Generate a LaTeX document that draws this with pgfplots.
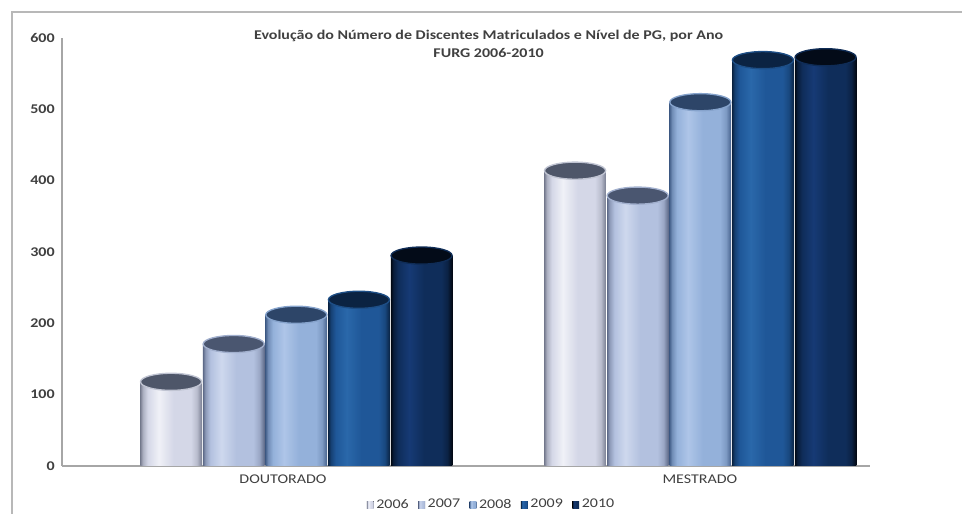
\documentclass[border=0pt]{standalone}
\usepackage{fontspec}
\setmainfont{Carlito}[FakeStretch=1.2]
\usepackage{pgfplots}
\pgfplotsset{compat=1.18}

\definecolor{txt}{HTML}{404040}
\definecolor{axl}{HTML}{A6A6A6}
% body colours: edge, base, highlight
\definecolor{ea}{HTML}{7A7F92}\definecolor{ca}{HTML}{D4D7E7}\definecolor{ha}{HTML}{F0F1F7}
\definecolor{eb}{HTML}{5E6A88}\definecolor{cb}{HTML}{B3C1DF}\definecolor{hb}{HTML}{CED8EE}
\definecolor{ec}{HTML}{46628C}\definecolor{cc}{HTML}{94B1DA}\definecolor{hc}{HTML}{AEC5E8}
\definecolor{ed}{HTML}{0A2444}\definecolor{cd}{HTML}{1F5798}\definecolor{hd}{HTML}{2A68AA}
\definecolor{ee}{HTML}{020812}\definecolor{ce}{HTML}{0F2D5A}\definecolor{he}{HTML}{163A75}
% tops: fill, rim
\definecolor{ta}{HTML}{4E5669}\definecolor{ra}{HTML}{C0C4D2}
\definecolor{tb}{HTML}{4A5670}\definecolor{rb}{HTML}{A2B0CE}
\definecolor{tc}{HTML}{2D4568}\definecolor{rc}{HTML}{86A3CC}
\definecolor{td}{HTML}{0B2342}\definecolor{rd}{HTML}{1D4E86}
\definecolor{te}{HTML}{030B18}\definecolor{re}{HTML}{0F2C56}

\pgfdeclarehorizontalshading{cyla}{100bp}{color(0bp)=(ea); color(25bp)=(ea); color(27bp)=(ca!55!ea); color(31bp)=(ca); color(40bp)=(ha); color(52bp)=(ca); color(66bp)=(ca); color(71bp)=(ca!70!ea); color(75bp)=(ea); color(100bp)=(ea)}
\pgfdeclarehorizontalshading{cylb}{100bp}{color(0bp)=(eb); color(25bp)=(eb); color(27bp)=(cb!55!eb); color(31bp)=(cb); color(40bp)=(hb); color(52bp)=(cb); color(66bp)=(cb); color(71bp)=(cb!70!eb); color(75bp)=(eb); color(100bp)=(eb)}
\pgfdeclarehorizontalshading{cylc}{100bp}{color(0bp)=(ec); color(25bp)=(ec); color(27bp)=(cc!55!ec); color(31bp)=(cc); color(40bp)=(hc); color(52bp)=(cc); color(66bp)=(cc); color(71bp)=(cc!70!ec); color(75bp)=(ec); color(100bp)=(ec)}
\pgfdeclarehorizontalshading{cyld}{100bp}{color(0bp)=(ed); color(25bp)=(ed); color(27bp)=(cd!55!ed); color(31bp)=(cd); color(40bp)=(hd); color(52bp)=(cd); color(66bp)=(cd); color(71bp)=(cd!70!ed); color(75bp)=(ed); color(100bp)=(ed)}
\pgfdeclarehorizontalshading{cyle}{100bp}{color(0bp)=(ee); color(25bp)=(ee); color(27bp)=(ce!55!ee); color(31bp)=(ce); color(40bp)=(he); color(52bp)=(ce); color(66bp)=(ce); color(71bp)=(ce!70!ee); color(75bp)=(ee); color(100bp)=(ee)}

\pgfdeclareplotmark{cyltop}{%
  \pgfpathellipse{\pgfpointorigin}{\pgfqpoint{\pgfplotmarksize}{0pt}}{\pgfqpoint{0pt}{0.28\pgfplotmarksize}}%
  \pgfusepathqfillstroke}

\pgfplotstableread{
x    v
-0.230 118
 0.770 414
}\ya
\pgfplotstableread{
x    v
-0.075 171
 0.925 379
}\yb
\pgfplotstableread{
x    v
 0.080 212
 1.080 510
}\yc
\pgfplotstableread{
x    v
 0.235 233
 1.235 569
}\yd
\pgfplotstableread{
x    v
 0.390 295
 1.390 573
}\ye

\pgfplotsset{
  cylbar/.style={ybar, bar width=0.152, bar shift=0pt, draw=none, shading=#1, shade},
  onlyD/.style={skip coords between index={1}{2}},
  onlyM/.style={skip coords between index={0}{1}},
}

\begin{document}
\begin{tikzpicture}
\begin{axis}[
  scale only axis, width=606pt, height=321pt,
  xmin=-0.5, xmax=1.5, ymin=0, ymax=600,
  axis x line=bottom, axis y line=left,
  axis line style={-, axl, line width=1pt},
  xtick={0.047,1.079}, xticklabels={DOUTORADO,MESTRADO},
  ytick={0,100,...,600},
  major tick length=0pt,
  /pgf/number format/assume math mode=true,
  xticklabel style={font=\fontsize{10}{12}\selectfont, text=txt, yshift=-3pt},
  yticklabel style={font=\bfseries\fontsize{10}{12}\selectfont, text=txt, xshift=-2pt},
  title={Evolução do Número de Discentes Matriculados e Nível de PG, por Ano\\FURG 2006-2010},
  title style={at={(0.528,1)}, anchor=north, yshift=3.5pt, align=center,
    font=\bfseries\fontsize{10}{13.5}\selectfont, text=txt},
  clip=false,
  legend columns=5,
  legend style={at={(0.532,0)}, anchor=center, yshift=-29pt, draw=none, fill=none,
    font=\fontsize{10}{12}\selectfont, text=txt,
    /tikz/every even column/.append style={column sep=5pt}},
  legend image code/.code={\fill[#1] (0pt,-2.6pt) rectangle (5.2pt,2.6pt);},
]
\addplot[cylbar=cyla, onlyD] table[x=x,y=v]{\ya};
\addlegendentry{2006}
\addplot[cylbar=cylb, onlyD] table[x=x,y=v]{\yb};
\addlegendentry{2007}
\addplot[cylbar=cylc, onlyD] table[x=x,y=v]{\yc};
\addlegendentry{2008}
\addplot[cylbar=cyld, onlyD] table[x=x,y=v]{\yd};
\addlegendentry{2009}
\addplot[cylbar=cyle, onlyD] table[x=x,y=v]{\ye};
\addlegendentry{2010}
\addplot[forget plot, cylbar=cyla, onlyM] table[x=x,y=v]{\ya};
\addplot[forget plot, cylbar=cylb, onlyM] table[x=x,y=v]{\yb};
\addplot[forget plot, cylbar=cylc, onlyM] table[x=x,y=v]{\yc};
\addplot[forget plot, cylbar=cyld, onlyM] table[x=x,y=v]{\yd};
\addplot[forget plot, cylbar=cyle, onlyM] table[x=x,y=v]{\ye};

\addplot[forget plot, only marks, mark=cyltop, mark size=22.9pt, mark options={fill=ta, draw=ra, line width=1pt}] table[x=x,y=v]{\ya};
\addplot[forget plot, only marks, mark=cyltop, mark size=22.9pt, mark options={fill=tb, draw=rb, line width=1pt}] table[x=x,y=v]{\yb};
\addplot[forget plot, only marks, mark=cyltop, mark size=22.9pt, mark options={fill=tc, draw=rc, line width=1pt}] table[x=x,y=v]{\yc};
\addplot[forget plot, only marks, mark=cyltop, mark size=22.9pt, mark options={fill=td, draw=rd, line width=1pt}] table[x=x,y=v]{\yd};
\addplot[forget plot, only marks, mark=cyltop, mark size=22.9pt, mark options={fill=te, draw=re, line width=1pt}] table[x=x,y=v]{\ye};
\end{axis}
\draw[axl!80, line width=1.2pt] ([shift={(-37.5pt,-40pt)}]current axis.south west) |- ([shift={(72pt,19.5pt)}]current axis.north east);
\pgfresetboundingbox
\useasboundingbox ([shift={(-46.5pt,-36pt)}]current axis.south west) rectangle ([shift={(69pt,28.5pt)}]current axis.north east);
\end{tikzpicture}
\end{document}
